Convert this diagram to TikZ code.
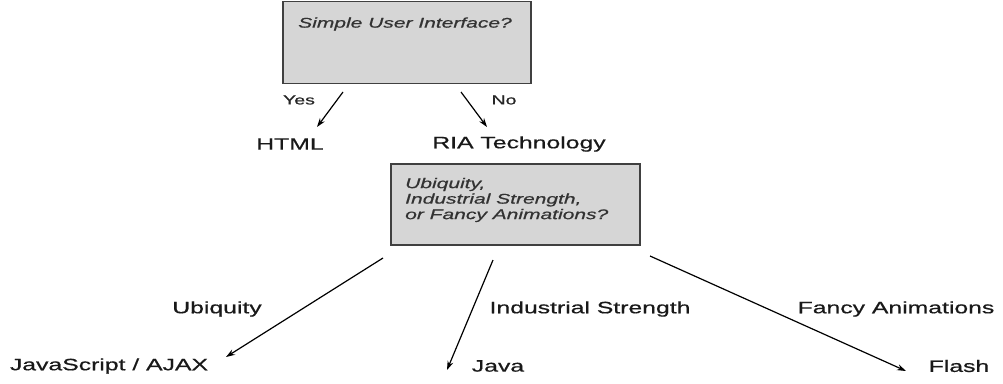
\documentclass[tikz,border=0pt]{standalone}
\usepackage{fontspec}
\setmainfont{Liberation Sans}
\newfontfamily\lab[FakeStretch=1.5,FakeBold=0.7]{Liberation Sans}
\usetikzlibrary{arrows.meta}
\begin{document}
\begin{tikzpicture}[x=1pt,y=-1pt,
  qbox/.style={draw=black!75,line width=1.6pt,fill=black!16,inner sep=0pt},
  qtext/.style={font=\lab\itshape\fontsize{14}{15}\selectfont,text=black!80,inner sep=0pt,anchor=west,align=left},
  ans/.style={font=\lab\fontsize{16.5}{18}\selectfont,inner sep=0pt,text=black!90},
  yn/.style={font=\lab\fontsize{13}{14}\selectfont,inner sep=0pt,text=black!85},
  arr/.style={line width=1.2pt,-{Stealth[length=9pt,width=6pt]}}]
\useasboundingbox (0,0) rectangle (1003,383);
% boxes
\node[qbox,minimum width=248pt,minimum height=82pt,anchor=north west] (q1) at (282,0.8) {};
\node[qtext] (t1) at (298,24) {Simple User Interface?};
\node[qbox,minimum width=249pt,minimum height=81pt,anchor=north west] (q2) at (390,163) {};
\node[qtext,font=\lab\itshape\fontsize{14}{15.5}\selectfont] (t2) at (405,200) {Ubiquity,\\Industrial Strength,\\or Fancy Animations?};
% answers
\node[ans] (html) at (290,144) {HTML};
\node[ans] (ria) at (519,144) {RIA Technology};
\node[ans] (js) at (109,366) {JavaScript / AJAX};
\node[ans] (java) at (498,366) {Java};
\node[ans] (flash) at (959,366) {Flash};
% edge labels
\node[yn] (yes) at (299,100) {Yes};
\node[yn] (no) at (504,100) {No};
\node[ans] (lu) at (217,309) {Ubiquity};
\node[ans] (li) at (590,309) {Industrial Strength};
\node[ans] (lf) at (896,309) {Fancy Animations};
% arrow ends
\coordinate (s1) at (343,92); \coordinate (e1) at (317,127);
\coordinate (s2) at (461,92); \coordinate (e2) at (487,127);
\coordinate (s3) at (383,258); \coordinate (e3) at (226,357);
\coordinate (s4) at (493,260); \coordinate (e4) at (447,370);
\coordinate (s5) at (650,256); \coordinate (e5) at (906,371);
\draw[arr] (s1) -- (e1);
\draw[arr] (s2) -- (e2);
\draw[arr] (s3) -- (e3);
\draw[arr] (s4) -- (e4);
\draw[arr] (s5) -- (e5);
\end{tikzpicture}
\end{document}
